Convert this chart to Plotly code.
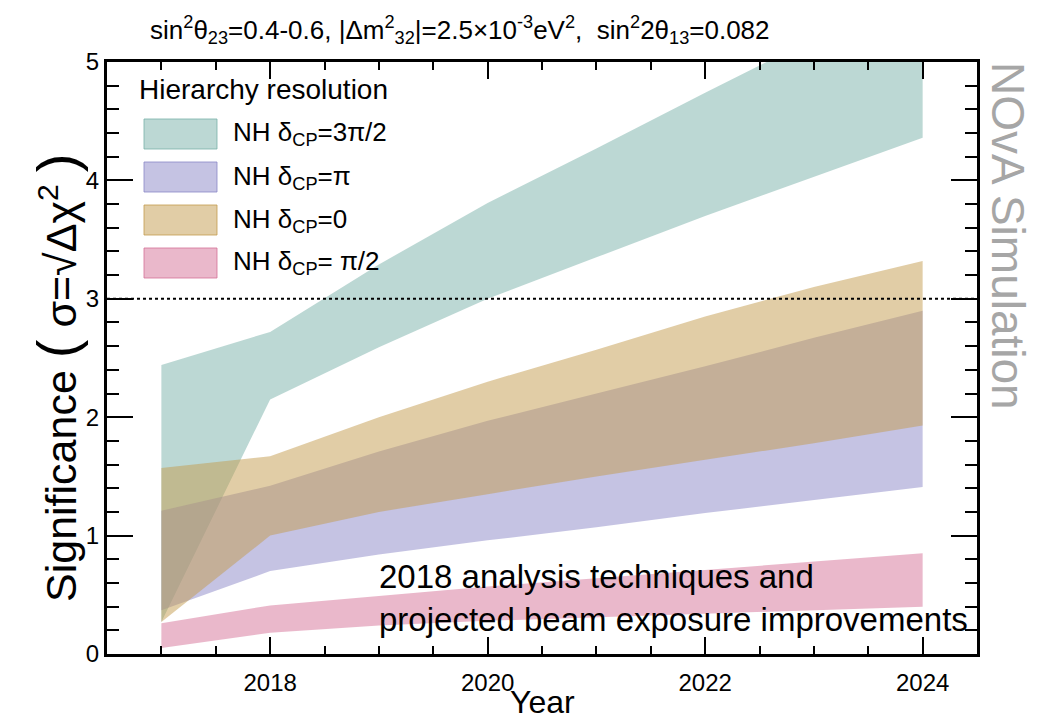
import plotly.graph_objects as go

# band edges (significance vs year)
years = [2017, 2018, 2019, 2020, 2021, 2022, 2023, 2024]

teal_hi = [2.44, 2.72, 3.29, 3.81, 4.27, 4.74, 5.2, 5.6]
teal_lo = [0.27, 2.15, 2.59, 3.0, 3.35, 3.7, 4.03, 4.36]
purple_hi = [1.21, 1.42, 1.71, 1.97, 2.2, 2.43, 2.67, 2.9]
purple_lo = [0.37, 0.7, 0.84, 0.96, 1.07, 1.19, 1.3, 1.41]
orange_hi = [1.57, 1.67, 2.0, 2.3, 2.57, 2.85, 3.1, 3.32]
orange_lo = [0.27, 1.0, 1.2, 1.35, 1.5, 1.64, 1.78, 1.93]
pink_hi = [0.26, 0.41, 0.49, 0.57, 0.64, 0.71, 0.78, 0.85]
pink_lo = [0.05, 0.18, 0.24, 0.28, 0.31, 0.34, 0.37, 0.4]

labels = ["NH δ<sub>CP</sub>=3π/2", "NH δ<sub>CP</sub>=π",
          "NH δ<sub>CP</sub>=0", "NH δ<sub>CP</sub>= π/2"]
bands = [(teal_hi, teal_lo), (purple_hi, purple_lo),
         (orange_hi, orange_lo), (pink_hi, pink_lo)]
colors = ["rgba(121,177,169,0.5)", "rgba(139,135,199,0.5)",
          "rgba(195,155,77,0.5)", "rgba(213,113,151,0.5)"]
edge_colors = ["rgba(121,177,169,0.8)", "rgba(139,135,199,0.8)",
               "rgba(195,155,77,0.8)", "rgba(213,113,151,0.8)"]

FONT = "Liberation Sans, Arial, sans-serif"
W, H = 1040, 722
OFF = 8  # page body margin
# plot frame in screen pixels
X0, X1, Y0, Y1 = 107, 977, 62, 654
L, T = X0 - OFF, Y0 - OFF
PW, PH = X1 - X0, Y1 - Y0
R, B = W - L - PW, H - T - PH


def px(x):
    return (x - X0) / PW


def py(y):
    return (Y1 - y) / PH


fig = go.Figure()

for (hi, lo), col, name in zip(bands, colors, labels):
    fig.add_trace(go.Scatter(
        x=years + years[::-1],
        y=hi + lo[::-1],
        fill="toself",
        fillcolor=col,
        line=dict(width=0),
        mode="lines",
        name=name,
        showlegend=False,
        hoverinfo="skip",
    ))

shapes = [dict(type="line", xref="paper", yref="y", x0=0, x1=1, y0=3, y1=3,
               line=dict(color="black", width=2, dash="dot"), layer="above")]
annotations = []

# hand-made legend with wide swatches
annotations.append(dict(x=px(137), y=py(90), xref="paper", yref="paper",
                        text="Hierarchy resolution", showarrow=False,
                        xanchor="left", yanchor="middle",
                        font=dict(size=28, color="black", family=FONT)))
for i, (name, col, ec) in enumerate(zip(labels, colors, edge_colors)):
    top = 119 + i * 43
    shapes.append(dict(type="rect", xref="paper", yref="paper",
                       x0=px(144), x1=px(217), y0=py(top + 30), y1=py(top),
                       fillcolor=col, line=dict(color=ec, width=1)))
    annotations.append(dict(x=px(231), y=py(top + 15), xref="paper", yref="paper",
                            text=name, showarrow=False,
                            xanchor="left", yanchor="middle",
                            font=dict(size=26, color="black", family=FONT)))

annotations.append(dict(
    x=px(148), y=py(30), xref="paper", yref="paper", showarrow=False,
    xanchor="left", yanchor="middle",
    text="sin<sup>2</sup>θ<sub>23</sub>=0.4-0.6, |Δm<sup>2</sup><sub>32</sub>|=2.5×10<sup>-3</sup>eV<sup>2</sup>,  "
         "sin<sup>2</sup>2θ<sub>13</sub>=0.082",
    font=dict(size=26, color="black", family=FONT)))

annotations.append(dict(
    x=px(56), y=py(378), xref="paper", yref="paper", showarrow=False,
    textangle=-90, xanchor="center", yanchor="middle",
    text="Significance <span style='font-size:56px'>(</span> σ=√Δχ<sup>2</sup> "
         "<span style='font-size:56px'>)</span>",
    font=dict(size=43, color="black", family=FONT)))

annotations.append(dict(
    x=0.5, y=py(702), xref="paper", yref="paper", showarrow=False,
    xanchor="center", yanchor="middle", text="Year",
    font=dict(size=32, color="black", family=FONT)))

annotations.append(dict(
    x=px(1008), y=py(236), xref="paper", yref="paper", showarrow=False,
    textangle=90, xanchor="center", yanchor="middle", text="NOvA Simulation",
    font=dict(size=46, color="#a6a6a6", family=FONT)))

annotations.append(dict(
    x=px(377), y=py(598), xref="paper", yref="paper", showarrow=False,
    xanchor="left", yanchor="middle", align="left",
    text="2018 analysis techniques and<br>projected beam exposure improvements",
    font=dict(size=33, color="black", family=FONT)))

fig.update_layout(
    width=W, height=H,
    margin=dict(l=L, r=R, t=T, b=B, autoexpand=False),
    paper_bgcolor="white", plot_bgcolor="white",
    shapes=shapes, annotations=annotations,
    showlegend=False,
    font=dict(family=FONT, color="black"),
)

fig.update_xaxes(
    range=[2016.5, 2024.5], tick0=2018, dtick=2,
    ticks="inside", ticklen=17, tickwidth=2, tickcolor="black",
    showline=True, linewidth=3, linecolor="black", mirror="ticks",
    showgrid=False, zeroline=False,
    tickfont=dict(size=24, color="black"), ticklabelstandoff=5,
    minor=dict(tick0=2017, dtick=0.5, ticks="inside", ticklen=8,
               tickwidth=1.5, tickcolor="black", showgrid=False),
)
fig.update_yaxes(
    range=[0, 5], dtick=1,
    ticks="inside", ticklen=26, tickwidth=2, tickcolor="black",
    showline=True, linewidth=3, linecolor="black", mirror="ticks",
    showgrid=False, zeroline=False,
    tickfont=dict(size=24, color="black"), ticklabelstandoff=0,
    minor=dict(dtick=0.2, ticks="inside", ticklen=12,
               tickwidth=1.5, tickcolor="black", showgrid=False),
)

fig.write_html("out.html")
